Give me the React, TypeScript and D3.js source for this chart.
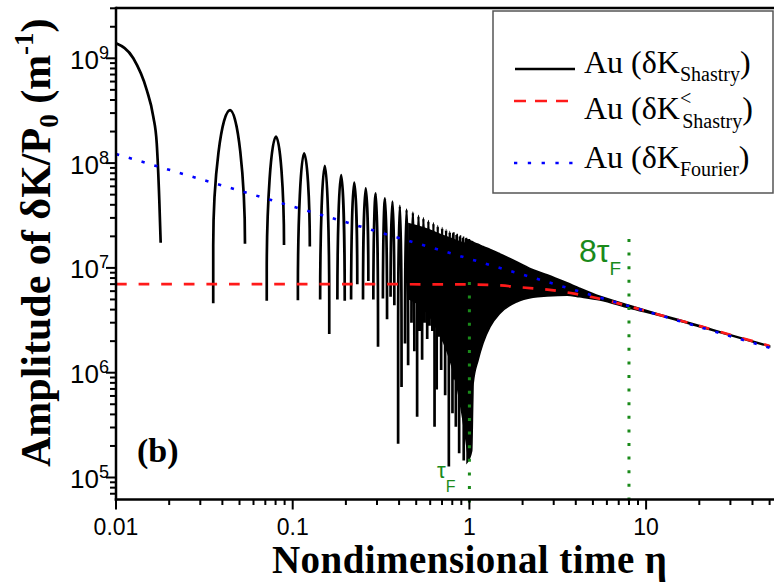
import React from 'react';
import * as d3 from 'd3';

const W = 774;
const H = 582;

// ---- x / y tick labels ----
const xMajorTicks = [0.01, 0.1, 1, 10];
const xMajorLabels = ['0.01', '0.1', '1', '10'];
const yMajorExps = [5, 6, 7, 8, 9];

// ---- black curve: first (descending) lobe, read points ----
const lobe1Eta = [0.01, 0.01253, 0.01492, 0.01626, 0.0170, 0.01758, 0.0179];
const lobe1Val = [1.39e9, 1.0e9, 4.99e8, 2.77e8, 1.55e8, 4.45e7, 1.74e7];

// ---- black curve: positive half-period lobes (peak / left end / right end) ----
const lobePeakEta = [0.0442, 0.0804, 0.116, 0.152, 0.188, 0.223, 0.259, 0.295, 0.333, 0.367, 0.404, 0.441, 0.479, 0.515, 0.549, 0.586, 0.626, 0.662, 0.701, 0.738, 0.774, 0.811, 0.847, 0.884, 0.920, 0.957, 0.993];
const lobePeakVal = [3.2e8, 1.79e8, 1.24e8, 9.4e7, 7.7e7, 6.5e7, 5.75e7, 5.15e7, 4.6e7, 4.28e7, 3.9e7, 3.6e7, 3.37e7, 3.13e7, 2.97e7, 2.8e7, 2.66e7, 2.51e7, 2.4e7, 2.3e7, 2.21e7, 2.13e7, 2.06e7, 1.99e7, 1.93e7, 1.88e7, 1.83e7];
const lobeLeftEta = [0.0355, 0.0713, 0.107, 0.143, 0.179, 0.214, 0.250, 0.286, 0.324, 0.358, 0.395, 0.432, 0.470, 0.506, 0.540, 0.577, 0.617, 0.653, 0.692, 0.729, 0.765, 0.802, 0.838, 0.875, 0.911, 0.948, 0.984];
const lobeRightEta = [0.0537, 0.0893, 0.125, 0.161, 0.197, 0.232, 0.268, 0.304, 0.342, 0.376, 0.413, 0.450, 0.488, 0.524, 0.558, 0.595, 0.635, 0.671, 0.710, 0.747, 0.783, 0.820, 0.856, 0.893, 0.929, 0.966, 1.002];
const lobeLeftVal = [4.6e6, 4.87e6, 4.9e6, 5.0e6, 5.0e6, 5.0e6, 5.0e6, 5.0e6, 5.1e6, 5.3e6, 2.1e5, 1.9e6, 3.0e6, 3.8e5, 1.33e6, 2.1e6, 2.5e6, 6.9e5, 1.06e6, 6.1e5, 1.27e5, 4.1e5, 3.05e5, 1.7e5, 6e5, 2.5e5, 3e5];
const lobeRightVal = [1.7e7, 1.65e7, 1.6e7, 2.34e6, 4.85e6, 7e6, 7.5e6, 1.77e6, 3.24e6, 4.4e6, 7.3e5, 1.18e6, 1.6e6, 2.5e6, 3.0e6, 2.8e6, 3.05e5, 2.2e6, 2.0e6, 1.8e6, 1.5e6, 8.6e5, 1.2e6, 9e5, 1.45e5, 4e5, 5e5];

// ---- black curve: solid core where the lobes merge (eta 0.45 - 0.97) ----
const coreEta = [0.45, 0.55, 0.65, 0.75, 0.85, 0.93, 0.975];
const coreUpper = [2.7e7, 2.45e7, 2.2e7, 2.0e7, 1.85e7, 1.76e7, 1.74e7];
const coreLower = [5.0e6, 4.0e6, 2.6e6, 1.5e6, 6.9e5, 2.8e5, 1.6e5];

// ---- black curve: dense oscillation band (upper / lower envelope) ----
const denseEta = [0.97, 1.03, 1.045, 1.05, 1.12, 1.195, 1.31, 1.49, 1.86, 2.29, 2.75, 3.57, 4.2, 5.48, 8, 12, 20, 30, 50];
const denseUpper = [1.86e7, 1.79e7, 1.77e7, 1.76e7, 1.68e7, 1.6e7, 1.5e7, 1.36e7, 1.14e7, 9.6e6, 8.6e6, 7.2e6, 6.4e6, 5.35e6, 4.4e6, 3.6e6, 2.82e6, 2.3e6, 1.8e6];
const denseLower = [1.4e5, 1.8e5, 5.5e5, 7.9e5, 1.32e6, 1.92e6, 2.75e6, 3.7e6, 4.76e6, 5.25e6, 5.4e6, 5.5e6, 5.3e6, 4.94e6, 4.15e6, 3.5e6, 2.75e6, 2.27e6, 1.77e6];

// ---- red dashed: dK< Shastry ----
const redEta = [0.01, 0.1, 0.3, 0.6, 1, 1.5, 2, 3, 4, 5, 6, 8, 12, 20, 30, 50];
const redVal = [7.0e6, 7.0e6, 7.0e6, 6.97e6, 6.95e6, 6.8e6, 6.5e6, 6.1e6, 5.65e6, 5.25e6, 4.9e6, 4.3e6, 3.55e6, 2.8e6, 2.3e6, 1.8e6];

// ---- blue dotted: dK Fourier ----
const blueEta = [0.01, 0.1, 1, 10, 50];
const blueVal = [1.22e8, 3.86e7, 1.22e7, 3.86e6, 1.73e6];

// ---- green markers ----
const markerEta = [1, 8];

const SERIF = '"Liberation Serif", "Times New Roman", serif';
const SANS = '"Liberation Sans", Arial, sans-serif';
const GREEN = '#1a8a1a';

export default function App() {
  const L = 116, R = 774, T = 8, B = 499.5;
  const x = d3.scaleLog().domain([0.01, 10]).range([116, 646.1]);
  const y = d3.scaleLog().domain([1e5, 1e9]).range([477.5, 58.3]);

  const xMinor = x.copy().domain([0.01, 52]).ticks().filter(v => x(v) <= R + 0.5);
  const yMinor = y.copy().domain([6.2e4, 3.02e9]).ticks().filter(v => y(v) >= T - 0.5 && y(v) <= B + 0.5);
  const isMajor = (v: number) => Math.abs(Math.log10(v) - Math.round(Math.log10(v))) < 1e-6;

  const line = d3.line<[number, number]>().x(d => x(d[0])).y(d => y(d[1])).curve(d3.curveMonotoneX);
  const lobe1 = line(lobe1Eta.map((e, i) => [e, lobe1Val[i]] as [number, number]));
  const red = line(redEta.map((e, i) => [e, redVal[i]] as [number, number]));
  const blue = line(blueEta.map((e, i) => [e, blueVal[i]] as [number, number]));
  const band = (etas: number[], lo: number[], hi: number[]) =>
    d3.area<number>()
      .x((_, i) => x(etas[i]))
      .y0((_, i) => y(lo[i]))
      .y1((_, i) => y(hi[i]))
      .curve(d3.curveMonotoneX)(etas);
  const dense = band(denseEta, denseLower, denseUpper);
  const core = band(coreEta, coreLower, coreUpper);

  const lobePath = (i: number) => {
    const xp = x(lobePeakEta[i]), yp = y(lobePeakVal[i]);
    const xl = x(lobeLeftEta[i]), yl = y(lobeLeftVal[i]);
    const xr = x(lobeRightEta[i]), yr = y(lobeRightVal[i]);
    const Dl = Math.min(yl - yp, 135), Dr = Math.min(yr - yp, 135);
    const p = d3.path();
    p.moveTo(xl, yl);
    p.lineTo(xl, yp + Dl);
    p.bezierCurveTo(xl, yp + 0.5 * Dl, xl + 0.5 * (xp - xl), yp, xp, yp);
    p.bezierCurveTo(xr - 0.5 * (xr - xp), yp, xr, yp + 0.5 * Dr, xr, yp + Dr);
    p.lineTo(xr, yr);
    return p.toString();
  };

  return (
    <svg width={W} height={H} viewBox={`0 0 ${W} ${H}`}
      style={{ position: 'fixed', left: 0, top: 0, background: '#fff' }}>
      <rect x={0} y={0} width={W} height={H} fill="#fff" />
      <defs>
        <clipPath id="plotclip">
          <rect x={L} y={T} width={R - L} height={B - T} />
        </clipPath>
      </defs>

      <g clipPath="url(#plotclip)">
        {/* black curve */}
        <path d={lobe1 || ''} fill="none" stroke="#000" strokeWidth={2.7} />
        <path d={core || ''} fill="#000" stroke="none" />
        {lobePeakEta.map((_, i) => (
          <path key={i} d={lobePath(i)} fill="none" stroke="#000" strokeWidth={2.7} />
        ))}
        <path d={dense || ''} fill="#000" stroke="#000" strokeWidth={1.6} />

        {/* red dashed */}
        <path d={red || ''} fill="none" stroke="#ff1a1a" strokeWidth={2.7} strokeDasharray="10.7 11.9" />
        {/* blue dotted */}
        <path d={blue || ''} fill="none" stroke="#0000ff" strokeWidth={2.6} strokeDasharray="3.3 10" />
      </g>

      {/* green vertical dotted markers */}
      <line x1={x(markerEta[0])} x2={x(markerEta[0])} y1={282} y2={511} stroke={GREEN} strokeWidth={3} strokeDasharray="3 10.6" />
      <line x1={x(markerEta[1])} x2={x(markerEta[1])} y1={239} y2={511} stroke={GREEN} strokeWidth={3} strokeDasharray="3 10.6" />
      <text x={437} y={478} fontFamily={SANS} fontSize={22} fill={GREEN}>τ<tspan fontSize={16} dy={14}>F</tspan></text>
      <text x={579} y={262} fontFamily={SANS} fontSize={32} fill={GREEN}>8τ<tspan fontSize={19} dy={13}>F</tspan></text>

      {/* axes frame */}
      <line x1={L} x2={R} y1={T} y2={T} stroke="#000" strokeWidth={2.5} />
      <line x1={L} x2={L} y1={T - 1.25} y2={B + 1.25} stroke="#000" strokeWidth={2.5} />
      <line x1={L - 1.25} x2={R} y1={B} y2={B} stroke="#000" strokeWidth={2.5} />

      {/* x ticks */}
      {xMinor.map((v, i) => (
        <line key={'xt' + i} x1={x(v)} x2={x(v)} y1={B} y2={B + (isMajor(v) ? 10 : 5.5)} stroke="#000" strokeWidth={2} />
      ))}
      {xMajorTicks.map((v, i) => (
        <text key={'xl' + i} x={x(v)} y={535} textAnchor="middle" fontFamily={SANS} fontSize={23}>{xMajorLabels[i]}</text>
      ))}

      {/* y ticks */}
      {yMinor.map((v, i) => (
        <line key={'yt' + i} x1={L} x2={L - (isMajor(v) ? 10 : 6)} y1={y(v)} y2={y(v)} stroke="#000" strokeWidth={2} />
      ))}
      {yMajorExps.map((e, i) => (
        <text key={'yl' + i} x={109} y={y(Math.pow(10, e)) + 10.5} textAnchor="end" fontFamily={SANS} fontSize={26}>
          10<tspan fontSize={18} dy={-10}>{e}</tspan>
        </text>
      ))}

      {/* axis titles */}
      <text x={272} y={573} fontFamily={SERIF} fontWeight="bold" fontSize={39} textLength={395} lengthAdjust="spacing">Nondimensional time η</text>
      <text transform="translate(50,467) rotate(-90)" fontFamily={SERIF} fontWeight="bold" fontSize={42}>
        Amplitude of δK/P<tspan fontSize={27} dy={8}>0</tspan><tspan dy={-8}> (m</tspan><tspan fontSize={27} dy={-17}>-1</tspan><tspan dy={17}>)</tspan>
      </text>

      {/* panel label */}
      <text x={137} y={462} fontFamily={SERIF} fontWeight="bold" fontSize={34}>(b)</text>

      {/* legend */}
      <rect x={493} y={11} width={280} height={182} fill="#fff" stroke="#555" strokeWidth={1.5} />
      <line x1={515} x2={575} y1={69} y2={69} stroke="#000" strokeWidth={2.6} />
      <text x={584} y={73} fontFamily={SERIF} fontSize={32}>
        Au (δK<tspan fontSize={20} dy={8}>Shastry</tspan><tspan dy={-8}>)</tspan>
      </text>
      <line x1={514} x2={576} y1={101} y2={101} stroke="#ff1a1a" strokeWidth={2.7} strokeDasharray="12 9" />
      <text x={584} y={119} fontFamily={SERIF} fontSize={32}>
        Au (δK<tspan fontSize={20} dy={-14}>&lt;</tspan><tspan fontSize={20} dx={-9} dy={23}>Shastry</tspan><tspan dy={-9}>)</tspan>
      </text>
      <line x1={514} x2={576} y1={163} y2={163} stroke="#0000ff" strokeWidth={2.6} strokeDasharray="3.3 10.5" />
      <text x={584} y={168} fontFamily={SERIF} fontSize={32}>
        Au (δK<tspan fontSize={20} dy={8}>Fourier</tspan><tspan dy={-8}>)</tspan>
      </text>
    </svg>
  );
}
